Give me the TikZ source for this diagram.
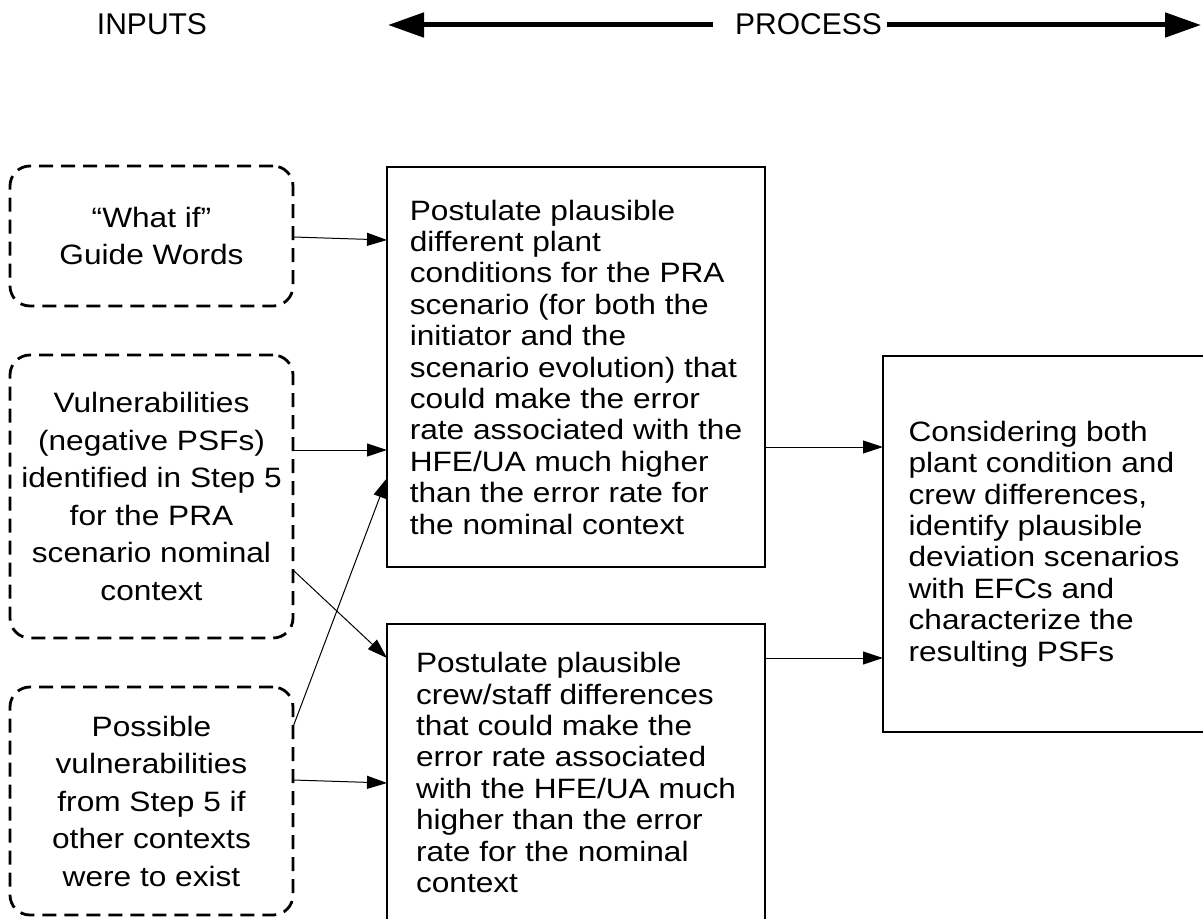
\documentclass[tikz,border=0pt]{standalone}
\usepackage{fontspec}
\setmainfont{Liberation Sans}
\newfontfamily\boxfont{Liberation Sans}[FakeStretch=1.13]
\usetikzlibrary{positioning,calc,arrows.meta}

\begin{document}
\begin{tikzpicture}[
    x=0.5pt, y=-0.5pt,
    outer sep=0pt,
    inbox/.style={draw, line width=1.4pt, dash pattern=on 7pt off 4pt, rounded corners=10pt, minimum width=141.5pt, inner sep=0pt, align=center, font=\boxfont\fontsize{14}{18.75}\selectfont},
    procbox/.style={draw, line width=0.65pt, minimum width=189pt, inner sep=0pt, align=left, font=\boxfont\fontsize{14}{15.7}\selectfont},
    link/.style={-{Triangle[length=10pt,width=6.5pt]}, line width=0.5pt},
    head/.style={font=\fontsize{15}{18}\selectfont, inner sep=0pt},
    headarrow/.style={-{Triangle[length=18pt,width=12pt]}, line width=2.5pt}
]
    \useasboundingbox (0,0) rectangle (1203,919);

    % header
    \node [head] (inputs) at (152,24) {INPUTS};
    \node [head] (process) at (808.5,24) {PROCESS};
    \coordinate (pleft) at (388,25);
    \coordinate (pright) at (1201,25);
    \draw [headarrow] ($(process.west)+(-22,1)$) -- (pleft);
    \draw [headarrow] ($(process.east)+(5,1)$) -- (pright);

    % inputs
    \node [inbox, minimum height=70pt] (guide) at (151.5,236) {“What if”\\Guide Words};
    \node [inbox, minimum height=141.5pt, below=24.5pt of guide] (vuln) {Vulnerabilities\\(negative PSFs)\\identified in Step 5\\for the PRA\\scenario nominal\\context};
    \node [inbox, minimum height=114pt, below=24.5pt of vuln] (other) {Possible\\vulnerabilities\\from Step 5 if\\other contexts\\were to exist};

    % process
    \node [procbox, minimum height=200pt] (plant) at (576,367) {Postulate plausible\\different plant\\conditions for the PRA\\scenario (for both the\\initiator and the\\scenario evolution) that\\could make the error\\rate associated with the\\HFE/UA much higher\\than the error rate for\\the nominal context};
    \node [procbox, minimum height=148.5pt, below=28.5pt of plant] (crew) {Postulate plausible\\crew/staff differences\\that could make the\\error rate associated\\with the HFE/UA much\\higher than the error\\rate for the nominal\\context};
    \node [procbox, minimum width=161pt, minimum height=188pt] (devi) at (1044,544) {Considering both\\plant condition and\\crew differences,\\identify plausible\\deviation scenarios\\with EFCs and\\characterize the\\resulting PSFs};

    % connectors
    \draw [link] ($(guide.east)+(0,1)$) -- ($(plant.north west)+(0,73)$);
    \draw [link] ($(vuln.north east)+(0,95)$) -- ($(plant.north west)+(0,283)$);
    \draw [link] ($(vuln.north east)+(0,215)$) -- ($(crew.north west)+(0,34)$);
    \draw [link] ($(other.north east)+(0,40)$) -- ($(plant.north west)+(0,311)$);
    \draw [link] ($(other.north east)+(0,93)$) -- ($(crew.north west)+(0,159)$);
    \draw [link] ($(plant.north east)+(0,280)$) -- ($(devi.north west)+(0,91)$);
    \draw [link] ($(crew.north east)+(0,34)$) -- ($(devi.north west)+(0,302)$);
\end{tikzpicture}
\end{document}
